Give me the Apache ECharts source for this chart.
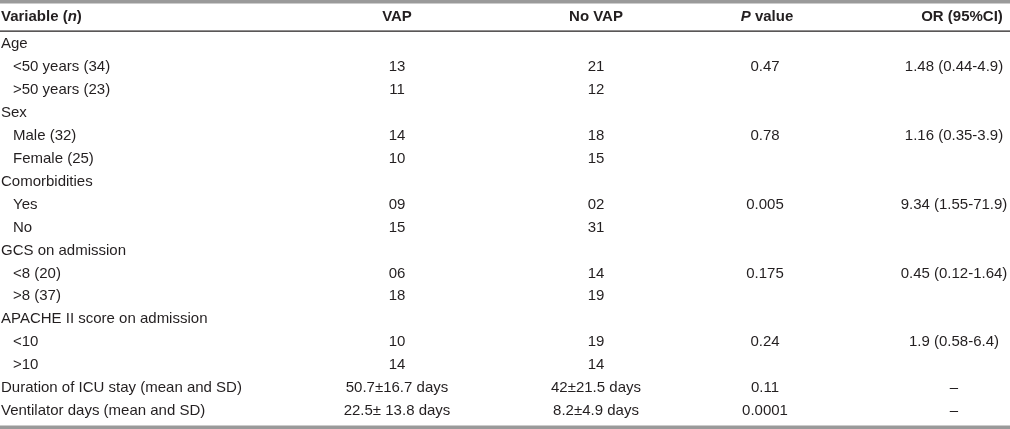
<!DOCTYPE html>
<html>
<head>
<meta charset="utf-8">
<script src="https://cdn.jsdelivr.net/npm/echarts@6/dist/echarts.min.js"></script>
<style>
html,body{margin:0;padding:0;background:#fff;}
#chart{width:1010px;height:429px;}
</style>
</head>
<body>
<div id="chart"></div>
<script>
// ---- data ----
const rowLabels = [
  'Age', '<50 years (34)', '>50 years (23)',
  'Sex', 'Male (32)', 'Female (25)',
  'Comorbidities', 'Yes', 'No',
  'GCS on admission', '<8 (20)', '>8 (37)',
  'APACHE II score on admission', '<10', '>10',
  'Duration of ICU stay (mean and SD)', 'Ventilator days (mean and SD)'
];
const rowLevel = [0,1,1, 0,1,1, 0,1,1, 0,1,1, 0,1,1, 0,0];
const vapValues = ['', '13', '11', '', '14', '10', '', '09', '15', '', '06', '18', '', '10', '14', '50.7\u00b116.7 days', '22.5\u00b1 13.8 days'];
const noVapValues = ['', '21', '12', '', '18', '15', '', '02', '31', '', '14', '19', '', '19', '14', '42\u00b121.5 days', '8.2\u00b14.9 days'];
const pValues = ['', '0.47', '', '', '0.78', '', '', '0.005', '', '', '0.175', '', '', '0.24', '', '0.11', '0.0001'];
const orValues = ['', '1.48 (0.44-4.9)', '', '', '1.16 (0.35-3.9)', '', '', '9.34 (1.55-71.9)', '', '', '0.45 (0.12-1.64)', '', '', '1.9 (0.58-6.4)', '', '\u2013', '\u2013'];
const headerLabels = ['Variable', 'VAP', 'No VAP', 'P value', 'OR (95%CI)'];

// ---- layout (not data) ----
const W = 1010, H = 429;
const colX = { label: 1, labelIndent: 13, vap: 397, noVap: 596, p: 765, or: 954, orHeader: 962 };
const FONT = '"Liberation Sans", Arial, sans-serif';
const TEXT_COLOR = '#231f20';
const FS = 15;

const rowIdx = rowLabels.map((_, i) => i);

function textSeries(name, values, xFn, align) {
  return {
    type: 'custom',
    name: name,
    coordinateSystem: 'cartesian2d',
    silent: true,
    data: values.map((v, i) => [xFn(i), i]),
    renderItem: function (params, api) {
      const p = api.coord([api.value(0), api.value(1)]);
      const txt = values[params.dataIndex];
      return {
        type: 'text',
        x: p[0], y: p[1],
        style: {
          text: txt,
          textAlign: align,
          textVerticalAlign: 'middle',
          fontFamily: FONT,
          fontSize: FS,
          fill: TEXT_COLOR
        }
      };
    }
  };
}

const chart = echarts.init(document.getElementById('chart'), null, { renderer: 'canvas' });

const headerY = 17;
const boldStyle = { fontFamily: FONT, fontSize: FS, fontWeight: 'bold', fill: TEXT_COLOR };
const boldItalic = { fontFamily: FONT, fontSize: FS, fontWeight: 'bold', fontStyle: 'italic', fill: TEXT_COLOR };
const option = {
  backgroundColor: '#fff',
  animation: false,
  grid: { left: 0, right: 0, top: 32.5, bottom: 6.5, containLabel: false },
  xAxis: { type: 'value', min: 0, max: W, show: false },
  yAxis: { type: 'category', data: rowIdx, inverse: true, show: false, boundaryGap: true },
  series: [
    textSeries('labels', rowLabels, i => rowLevel[i] ? colX.labelIndent : colX.label, 'left'),
    textSeries('VAP', vapValues, () => colX.vap, 'center'),
    textSeries('No VAP', noVapValues, () => colX.noVap, 'center'),
    textSeries('P value', pValues, () => colX.p, 'center'),
    textSeries('OR', orValues, () => colX.or, 'center')
  ],
  graphic: [
    { type: 'rect', shape: { x: 0, y: 0, width: W, height: 3.5 }, style: { fill: '#9a9a9a' }, silent: true },
    { type: 'rect', shape: { x: 0, y: 30.5, width: W, height: 1.2 }, style: { fill: '#231f20' }, silent: true },
    { type: 'rect', shape: { x: 0, y: 425.5, width: W, height: 3.5 }, style: { fill: '#9a9a9a' }, silent: true },
    {
      type: 'text', x: colX.label, y: headerY, silent: true,
      style: {
        text: '{b|' + headerLabels[0] + ' (}{bi|n}{b|)}',
        textVerticalAlign: 'middle', textAlign: 'left',
        rich: { b: boldStyle, bi: boldItalic }
      }
    },
    {
      type: 'text', x: colX.vap, y: headerY, silent: true,
      style: Object.assign({ text: headerLabels[1], textAlign: 'center', textVerticalAlign: 'middle' }, boldStyle)
    },
    {
      type: 'text', x: colX.noVap, y: headerY, silent: true,
      style: Object.assign({ text: headerLabels[2], textAlign: 'center', textVerticalAlign: 'middle' }, boldStyle)
    },
    {
      type: 'text', x: colX.p + 2, y: headerY, silent: true,
      style: {
        text: '{bi|' + headerLabels[3].split(' ')[0] + '}{b| ' + headerLabels[3].split(' ')[1] + '}',
        textAlign: 'center', textVerticalAlign: 'middle',
        rich: { b: boldStyle, bi: boldItalic }
      }
    },
    {
      type: 'text', x: colX.orHeader, y: headerY, silent: true,
      style: Object.assign({ text: headerLabels[4], textAlign: 'center', textVerticalAlign: 'middle' }, boldStyle)
    }
  ]
};
chart.setOption(option);
</script>
</body>
</html>
